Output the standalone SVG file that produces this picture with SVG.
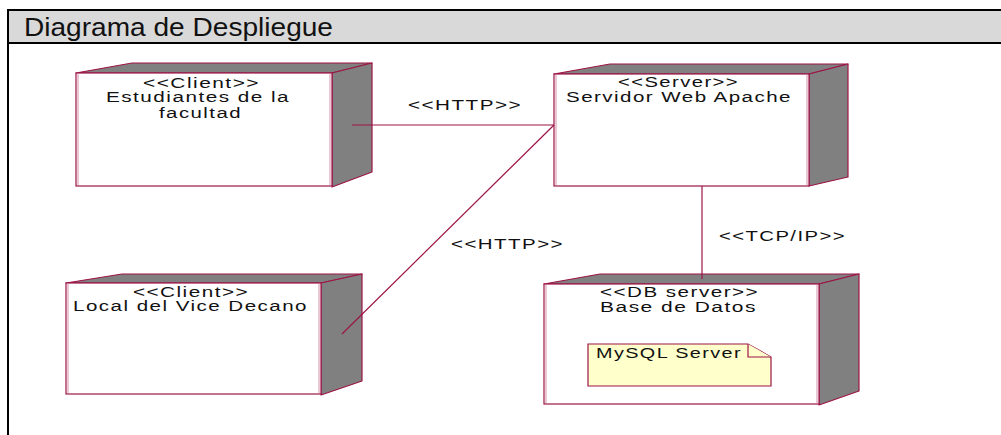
<svg xmlns="http://www.w3.org/2000/svg" width="1001" height="435" viewBox="0 0 1001 435">
  <style>
    .face { fill: #808080; stroke: #9c1446; stroke-width: 1.2; stroke-linejoin: round; }
    .front { fill: #ffffff; stroke: #9c1446; stroke-width: 1.2; }
    .edge { stroke: #d490a8; stroke-width: 1; }
    .lbl { font-family: "Liberation Sans", Arial, sans-serif; font-size: 14px; letter-spacing: 1px; fill: #111111; }
    .conn { stroke: #9c1446; stroke-width: 1.2; fill: none; }
    .note { fill: #ffffcc; stroke: #9c1446; stroke-width: 1.2; }
  </style>

  <!-- diagram frame and title bar -->
  <rect x="0" y="0" width="1001" height="435" fill="#ffffff"/>
  <rect x="9" y="11" width="992" height="32" fill="#d9d9d9"/>
  <line x1="8" y1="9.5" x2="8" y2="435" stroke="#000" stroke-width="2"/>
  <line x1="7" y1="10" x2="1001" y2="10" stroke="#000" stroke-width="2"/>
  <line x1="7" y1="43" x2="1001" y2="43" stroke="#000" stroke-width="2"/>
  <text x="24" y="36" font-family="Liberation Sans, Arial, sans-serif" font-size="25" fill="#111" textLength="309" lengthAdjust="spacingAndGlyphs">Diagrama de Despliegue</text>

  <!-- client node: students -->
  <g id="node-estudiantes">
    <polygon class="face" points="76,73 132,63 372,63 332,73"/>
    <polygon class="face" points="332,73 372,63 372,172 332,187"/>
    <rect class="front" x="76" y="73" width="256" height="113"/>
    <line class="edge" x1="78" y1="74" x2="78" y2="185"/>
    <line class="edge" x1="330" y1="74" x2="330" y2="185"/>
    <text class="lbl" x="143" y="88" textLength="117" lengthAdjust="spacingAndGlyphs">&lt;&lt;Client&gt;&gt;</text>
    <text class="lbl" x="106" y="102" textLength="184" lengthAdjust="spacingAndGlyphs">Estudiantes de la</text>
    <text class="lbl" x="159" y="118" textLength="83" lengthAdjust="spacingAndGlyphs">facultad</text>
  </g>

  <!-- web server node -->
  <g id="node-servidor-web">
    <polygon class="face" points="554,74 610,64 848,64 809,74"/>
    <polygon class="face" points="809,74 848,64 848,177 809,186"/>
    <rect class="front" x="554" y="74" width="255" height="112"/>
    <line class="edge" x1="556" y1="75" x2="556" y2="185"/>
    <line class="edge" x1="807" y1="75" x2="807" y2="185"/>
    <text class="lbl" x="618" y="87" textLength="121" lengthAdjust="spacingAndGlyphs">&lt;&lt;Server&gt;&gt;</text>
    <text class="lbl" x="566" y="102" textLength="226" lengthAdjust="spacingAndGlyphs">Servidor Web Apache</text>
  </g>

  <!-- client node: vice dean office -->
  <g id="node-vice-decano">
    <polygon class="face" points="66,283 122,274 362,274 321,283"/>
    <polygon class="face" points="321,283 362,274 362,381 321,395"/>
    <rect class="front" x="66" y="283" width="255" height="111"/>
    <line class="edge" x1="68" y1="284" x2="68" y2="393"/>
    <line class="edge" x1="319" y1="284" x2="319" y2="393"/>
    <text class="lbl" x="133" y="297" textLength="116" lengthAdjust="spacingAndGlyphs">&lt;&lt;Client&gt;&gt;</text>
    <text class="lbl" x="73" y="311" textLength="235" lengthAdjust="spacingAndGlyphs">Local del Vice Decano</text>
  </g>

  <!-- database server node -->
  <g id="node-base-datos">
    <polygon class="face" points="544,284 600,274 859,274 819,284"/>
    <polygon class="face" points="819,284 859,274 859,391 819,405"/>
    <rect class="front" x="544" y="284" width="275" height="120"/>
    <line class="edge" x1="546" y1="285" x2="546" y2="403"/>
    <line class="edge" x1="817" y1="285" x2="817" y2="403"/>
    <text class="lbl" x="600" y="297" textLength="159" lengthAdjust="spacingAndGlyphs">&lt;&lt;DB server&gt;&gt;</text>
    <text class="lbl" x="600" y="312" textLength="157" lengthAdjust="spacingAndGlyphs">Base de Datos</text>
    <g id="note-mysql">
      <polygon class="note" points="588,344 748,344 771,357 771,386 588,386"/>
      <polyline class="note" points="748,344 748,357 771,357"/>
      <text class="lbl" x="596" y="358" textLength="146" lengthAdjust="spacingAndGlyphs">MySQL Server</text>
    </g>
  </g>

  <!-- communication links -->
  <g id="connectors">
    <line class="conn" x1="352" y1="125" x2="554" y2="125"/>
    <line class="conn" x1="554" y1="125" x2="342" y2="334"/>
    <line class="conn" x1="702" y1="186" x2="702" y2="279"/>
    <text class="lbl" x="408" y="110" textLength="114" lengthAdjust="spacingAndGlyphs">&lt;&lt;HTTP&gt;&gt;</text>
    <text class="lbl" x="451" y="249" textLength="113" lengthAdjust="spacingAndGlyphs">&lt;&lt;HTTP&gt;&gt;</text>
    <text class="lbl" x="719" y="241" textLength="127" lengthAdjust="spacingAndGlyphs">&lt;&lt;TCP/IP&gt;&gt;</text>
  </g>
</svg>
